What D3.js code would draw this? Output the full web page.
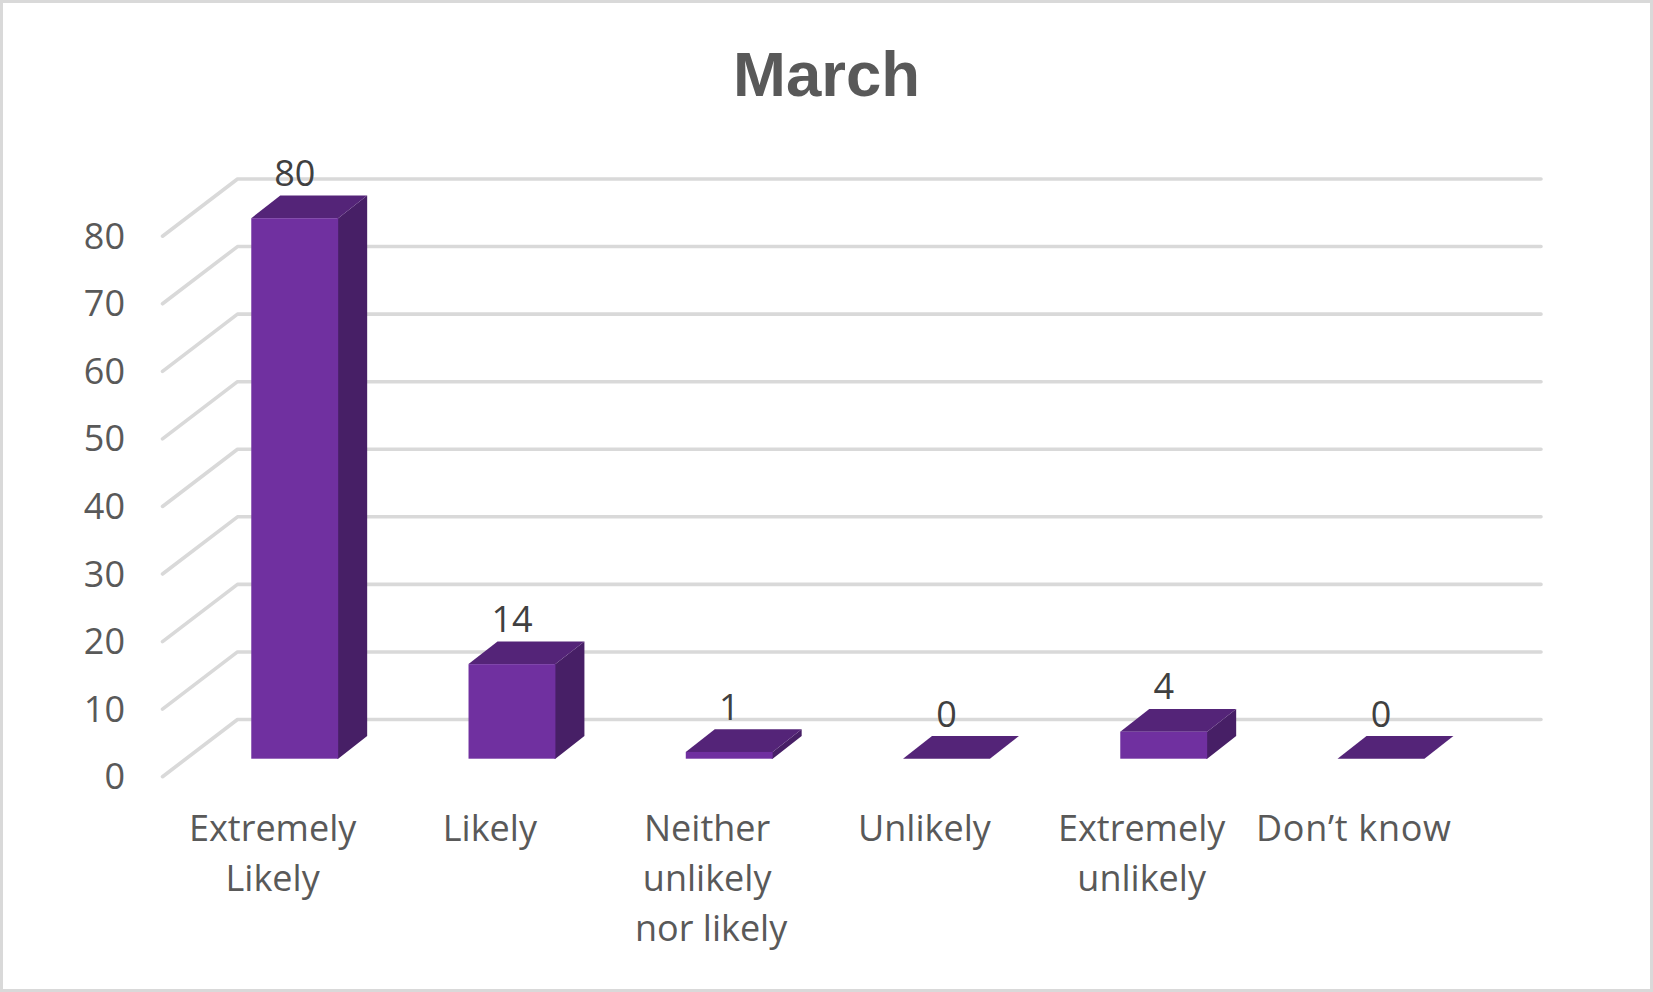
<!DOCTYPE html>
<html lang="en">

<head>
    <meta charset="utf-8" />
    <title>March</title>
    <script src="https://cdn.jsdelivr.net/npm/d3@7"></script>
    <style>
        html, body { margin: 0; padding: 0; background: #fff; }
        svg { display: block; }
        .tick-label { font-family: "Open Sans", sans-serif; font-size: 36px; fill: #595959; }
        .data-label { font-family: "Open Sans", sans-serif; font-size: 36px; fill: #404040; text-anchor: middle; }
        .title { font-family: "Liberation Sans", Arial, sans-serif; font-weight: bold; font-size: 63.5px; fill: #595959; text-anchor: middle; }
    </style>
</head>

<body>
    <script>
        var titleText = "March";
        var categories = ["Extremely Likely", "Likely", "Neither unlikely nor likely", "Unlikely", "Extremely unlikely", "Don\u2019t know"];
        var categoryLines = [["Extremely", "Likely"], ["Likely"], ["Neither", "unlikely", "nor likely"], ["Unlikely"], ["Extremely", "unlikely"], ["Don\u2019t know"]];
        var values = [80, 14, 1, 0, 4, 0];
        var yTicks = [0, 10, 20, 30, 40, 50, 60, 70, 80];

        var w = 1653;
        var h = 992;

        // floor of the 3d box, front edge and how far the back wall is pushed
        var floorDx = 75;
        var floorDy = 57.2;
        // bars stand a bit behind the front edge and have their own depth
        var barShiftX = 23.6;
        var barShiftY = 18;
        var barDx = 29;
        var barDy = 22.7;

        var xScale = d3.scaleBand()
            .domain(categories)
            .range([162.5, 1466])
            .paddingInner(0.6)
            .paddingOuter(0.3);

        var yScale = d3.scaleLinear()
            .domain([0, 80])
            .range([776.7, 236.2]);

        var svg = d3.select("body").append("svg")
            .attr("width", w)
            .attr("height", h);

        svg.append("rect")
            .attr("x", 1.5)
            .attr("y", 1.5)
            .attr("width", w - 3)
            .attr("height", h - 3)
            .attr("fill", "#fff")
            .attr("stroke", "#d9d9d9")
            .attr("stroke-width", 3);

        svg.append("text")
            .attr("class", "title")
            .attr("x", 826.5)
            .attr("y", 95.7)
            .text(titleText);

        // gridlines: side wall then back wall
        svg.selectAll("path.grid")
            .data(yTicks)
            .enter()
            .append("path")
            .attr("class", "grid")
            .attr("fill", "none")
            .attr("stroke", "#d9d9d9")
            .attr("stroke-width", 3.6)
            .attr("stroke-linecap", "round")
            .attr("stroke-linejoin", "round")
            .attr("d", function(d) {
                var y = yScale(d);
                return d3.line()([
                    [xScale.range()[0], y],
                    [xScale.range()[0] + floorDx, y - floorDy],
                    [xScale.range()[1] + floorDx, y - floorDy]
                ]);
            });

        svg.selectAll("text.tick-label")
            .data(yTicks)
            .enter()
            .append("text")
            .attr("class", "tick-label")
            .attr("text-anchor", "end")
            .attr("x", 125)
            .attr("y", function(d) { return yScale(d) + 12.5; })
            .text(function(d) { return d; });

        var bars = svg.selectAll("g.bar")
            .data(categories)
            .enter()
            .append("g")
            .attr("class", "bar");

        function barBox(i) {
            var x0 = xScale(categories[i]) + barShiftX;
            var x1 = x0 + xScale.bandwidth();
            var y0 = yScale(0) - barShiftY;
            var yTop = yScale(values[i]) - barShiftY;
            return { x0: x0, x1: x1, y0: y0, yTop: yTop };
        }

        // right side, runs a pixel under the front so no seam shows
        bars.append("path")
            .attr("fill", "#471f66")
            .attr("d", function(d, i) {
                var b = barBox(i);
                return d3.line()([[b.x1 - 1, b.y0], [b.x1, b.y0], [b.x1 + barDx, b.y0 - barDy], [b.x1 + barDx, b.yTop - barDy], [b.x1, b.yTop], [b.x1 - 1, b.yTop]]) + "Z";
            });

        // top
        bars.append("path")
            .attr("fill", "#542478")
            .attr("d", function(d, i) {
                var b = barBox(i);
                return d3.line()([[b.x0, b.yTop], [b.x1, b.yTop], [b.x1 + barDx, b.yTop - barDy], [b.x0 + barDx, b.yTop - barDy]]) + "Z";
            });

        // front
        bars.append("rect")
            .attr("fill", "#7030a0")
            .attr("x", function(d, i) { return barBox(i).x0; })
            .attr("y", function(d, i) { return barBox(i).yTop; })
            .attr("width", xScale.bandwidth())
            .attr("height", function(d, i) { return barBox(i).y0 - barBox(i).yTop; });

        // value labels
        svg.selectAll("text.data-label")
            .data(categories)
            .enter()
            .append("text")
            .attr("class", "data-label")
            .attr("x", function(d, i) { return barBox(i).x0 + xScale.bandwidth() / 2; })
            .attr("y", function(d, i) { return barBox(i).yTop - barDy - 9.5; })
            .text(function(d, i) { return values[i]; });

        // category labels, one tspan per line
        var catLabels = svg.selectAll("text.cat-label")
            .data(categories)
            .enter()
            .append("text")
            .attr("class", "tick-label cat-label")
            .attr("text-anchor", "middle")
            .attr("y", 840.7);

        catLabels.selectAll("tspan")
            .data(function(d, i) {
                return categoryLines[i].map(function(line, k) {
                    return { line: line, k: k, x: xScale(d) + xScale.bandwidth() / 2 + 1.5 };
                });
            })
            .enter()
            .append("tspan")
            .attr("x", function(d) {
                // these two sit off-centre in the original
                if (d.line === "nor likely") return d.x + 4;
                if (d.line === "Don\u2019t know") return d.x - 5;
                return d.x;
            })
            .attr("y", function(d) { return 840.7 + d.k * 50; })
            .attr("letter-spacing", function(d) { return d.line === "Don\u2019t know" ? 0.7 : null; })
            .text(function(d) { return d.line; });
    </script>
</body>

</html>
